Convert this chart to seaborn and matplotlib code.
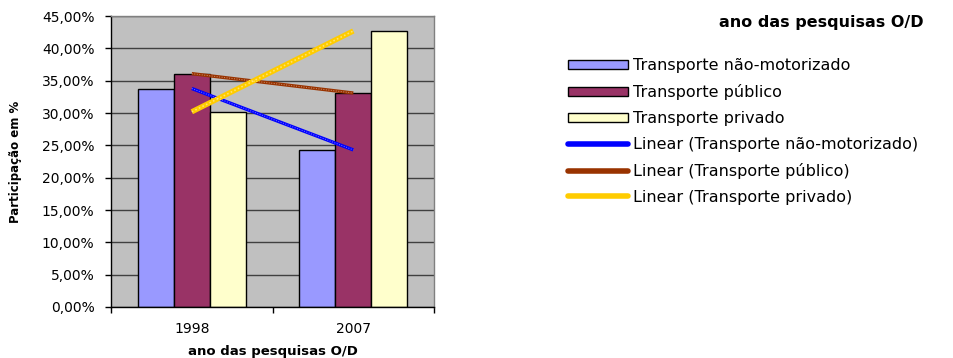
import pandas as pd
import matplotlib
matplotlib.use('Agg')
import matplotlib.pyplot as plt
import matplotlib.patches as mpatches
import matplotlib.lines as mlines
from matplotlib.ticker import FuncFormatter, MultipleLocator
import seaborn as sns

# Data
anos = ['1998', '2007']
modos = ['Transporte não-motorizado', 'Transporte público', 'Transporte privado']
nao_motorizado = [33.8, 24.3]
publico = [36.1, 33.1]
privado = [30.2, 42.7]

bar_colors = ['#9999FF', '#993366', '#FFFFCC']
trend_colors = ['#0000FF', '#993300', '#FFCC00']

df = pd.DataFrame({
    'ano': anos * 3,
    'modo': [m for m in modos for _ in anos],
    'valor': nao_motorizado + publico + privado,
})

sns.set_theme(style='white')
plt.rcParams['font.family'] = ['DejaVu Sans']
plt.rcParams.update({'text.color': 'black', 'axes.labelcolor': 'black',
                     'xtick.color': 'black', 'ytick.color': 'black'})

fig = plt.figure(figsize=(9.54, 3.58), dpi=100)
ax = fig.add_axes([0.1164, 0.1425, 0.3386, 0.8125])
ax.set_facecolor('#C0C0C0')

sns.barplot(data=df, x='ano', y='valor', hue='modo', hue_order=modos,
            palette=bar_colors, width=0.67, edgecolor='black', linewidth=1,
            saturation=1, legend=False, ax=ax, zorder=2)

# Linear trend lines (two points per series)
series = [nao_motorizado, publico, privado]
widths = [2.4, 2.4, 3.8]
for vals, c, lw in zip(series, trend_colors, widths):
    ax.plot([0, 1], vals, color=c, lw=lw, zorder=4, solid_capstyle='butt')
    ax.plot([0, 1], vals, color='white', lw=lw * 0.3, alpha=0.45,
            ls=(0, (1, 1.5)), zorder=5)

ax.set_xlim(-0.5, 1.5)
ax.set_ylim(0, 45)
ax.yaxis.set_major_locator(MultipleLocator(5))
ax.yaxis.set_major_formatter(FuncFormatter(lambda v, p: f'{v:.2f}%'.replace('.', ',')))
ax.grid(axis='y', color='#404040', lw=1, zorder=1)
ax.set_axisbelow(True)
for s in ax.spines.values():
    s.set_color('#808080')
    s.set_linewidth(1)
ax.spines['bottom'].set_color('black')
ax.spines['left'].set_color('black')

ax.tick_params(axis='y', which='major', direction='out', length=4, width=1,
               color='black', labelsize=10, left=True, pad=8)
ax.tick_params(axis='x', which='major', length=0, labelsize=10, pad=11)
ax.set_xticks([-0.5, 0.5, 1.5], minor=True)
ax.tick_params(axis='x', which='minor', direction='out', length=4, width=1,
               color='black', bottom=True)

ax.set_xlabel('ano das pesquisas O/D', fontsize=9.5, fontweight='bold', labelpad=6)
ax.set_ylabel('Participação em %', fontsize=8.5, fontweight='bold')
ax.yaxis.set_label_coords(-0.275, 0.5)

# Legend
handles = [mpatches.Patch(facecolor=c, edgecolor='black', lw=1) for c in bar_colors]
handles += [mlines.Line2D([], [], color=c, lw=4) for c in trend_colors]
labels = modos + ['Linear (' + m + ')' for m in modos]
fig.legend(handles, labels, loc='upper left', bbox_to_anchor=(0.589, 0.855),
           frameon=False, fontsize=11.5, handlelength=3.75, handleheight=0.5,
           handletextpad=0.3, labelspacing=0.68, borderaxespad=0)
fig.text(0.861, 0.938, 'ano das pesquisas O/D', fontsize=11.5, fontweight='bold',
         ha='center', va='center')

fig.savefig('out.png', dpi=100)
